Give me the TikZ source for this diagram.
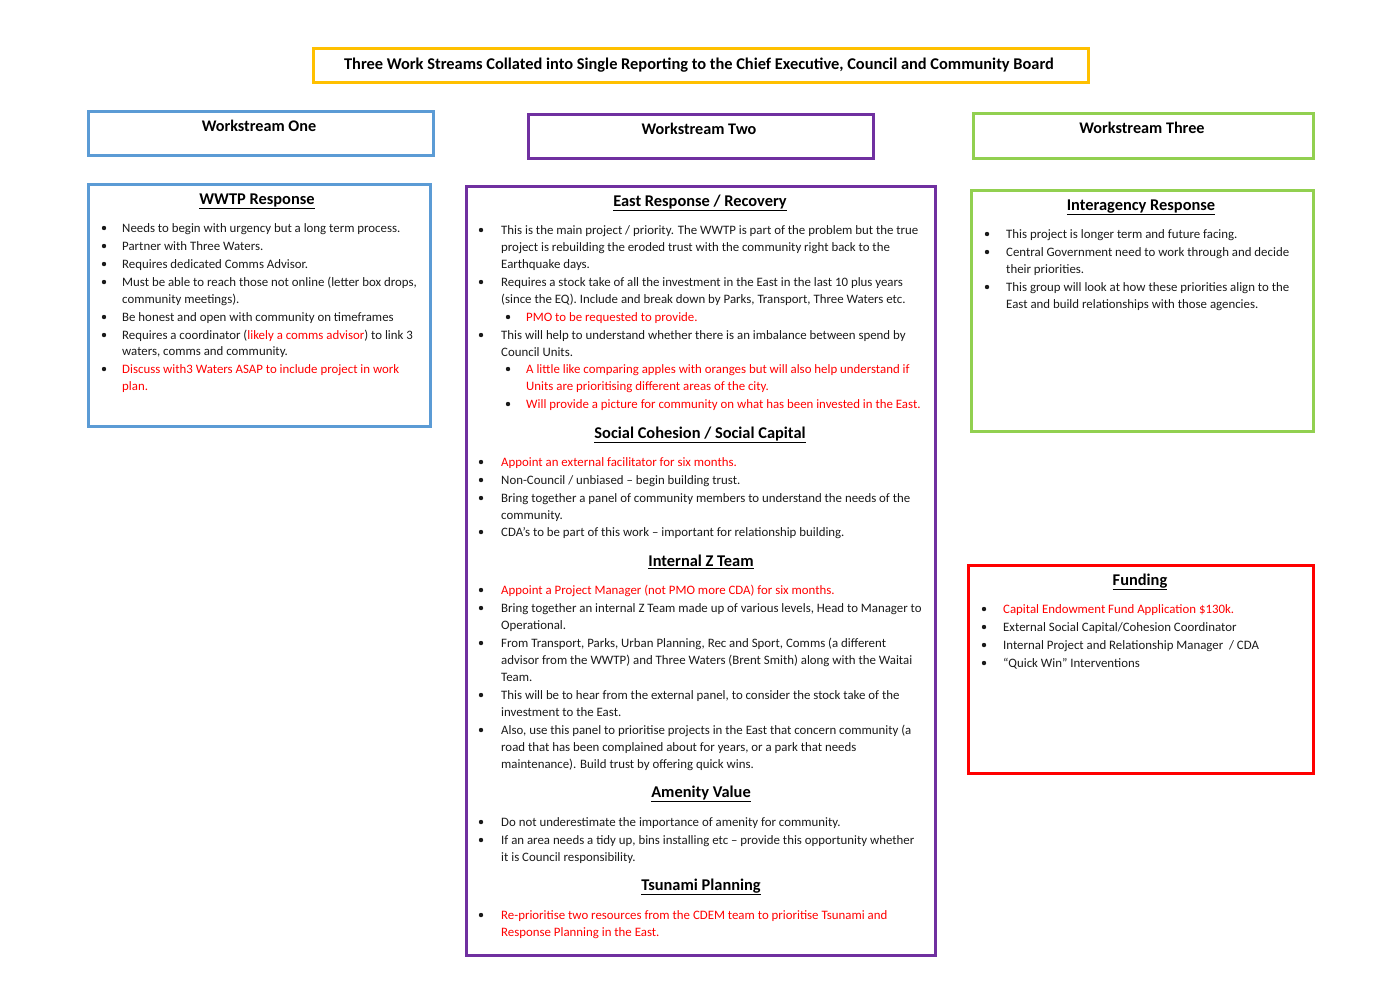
\documentclass[tikz,border=0pt]{standalone}
\usepackage{fontspec}
\setmainfont{Carlito}
\definecolor{cblue}{HTML}{5B9BD5}
\definecolor{cpurple}{HTML}{7030A0}
\definecolor{cgreen}{HTML}{92D050}
\definecolor{cgold}{HTML}{FFC000}
\definecolor{cred}{HTML}{FF0000}
\definecolor{ctext}{HTML}{1A1A1A}
\newcommand\rd[1]{\textcolor{cred}{#1}}
\newcommand\tline[3]{\node[txt] at (#1,#2+4) {#3};}
\newcommand\bitem[4]{\fill[ctext] (#1,#3) circle (2.2pt); \node[txt] at (#2,#3+4) {#4};}
\newcommand\myhead[3]{\node[hd] at (#1,#2+5.5) {\underline{#3}};}
\begin{document}
\begin{tikzpicture}[x=1pt,y=-1pt,
  font=\fontsize{12.85}{15}\selectfont,
  txt/.style={anchor=base west, inner sep=0pt, text=ctext},
  hd/.style={anchor=base, inner sep=0pt, text=black, font=\fontsize{16.4}{19}\selectfont\bfseries},
  frame/.style={draw=#1, line width=3pt, anchor=north west, inner sep=0pt},
  wlabel/.style={anchor=base, inner sep=0pt, text=black, font=\fontsize{16.2}{19}\selectfont\bfseries}]
\useasboundingbox (0,0) rectangle (1398,989);

% frames
\node[frame=cgold, minimum width=775pt, minimum height=34pt] (title) at (312,47) {};
\node[frame=cblue, minimum width=345pt, minimum height=44pt] (wsone) at (87,110) {};
\node[frame=cpurple, minimum width=345pt, minimum height=44pt] (wstwo) at (527,113) {};
\node[frame=cgreen, minimum width=340pt, minimum height=45pt] (wsthree) at (972,112) {};
\node[frame=cblue, minimum width=342pt, minimum height=242pt] (wwtp) at (87,183) {};
\node[frame=cpurple, minimum width=469pt, minimum height=769pt] (east) at (465,185) {};
\node[frame=cgreen, minimum width=342pt, minimum height=241pt] (inter) at (970,189) {};
\node[frame=cred, minimum width=345pt, minimum height=208pt] (fund) at (967,564) {};

% header labels
\node[wlabel, font=\fontsize{16.4}{19}\selectfont\bfseries] (titletext) at (699,69) {Three Work Streams Collated into Single Reporting to the Chief Executive, Council and Community Board};
\node[wlabel] (wsonet) at (259,131.5) {Workstream One};
\node[wlabel] (wstwot) at (699,134.5) {Workstream Two};
\node[wlabel] (wsthreet) at (1142,133.5) {Workstream Three};

% WWTP
\myhead{257}{199}{WWTP Response}
\bitem{104}{122}{228}{Needs to begin with urgency but a long term process.}
\bitem{104}{122}{246}{Partner with Three Waters.}
\bitem{104}{122}{264}{Requires dedicated Comms Advisor.}
\bitem{104}{122}{282}{Must be able to reach those not online (letter box drops,}
\tline{122}{299}{community meetings).}
\bitem{104}{122}{317}{Be honest and open with community on timeframes}
\bitem{104}{122}{335}{Requires a coordinator (\rd{likely a comms advisor}) to link 3}
\tline{122}{351}{waters, comms and community.}
\bitem{104}{122}{369}{\rd{Discuss with3 Waters ASAP to include project in work}}
\tline{122}{386}{\rd{plan.}}

% East
\myhead{700}{201}{East Response / Recovery}
\bitem{481}{501}{230}{This is the main project / priority. The WWTP is part of the problem but the true}
\tline{501}{247}{project is rebuilding the eroded trust with the community right back to the}
\tline{501}{264}{Earthquake days.}
\bitem{481}{501}{282}{Requires a stock take of all the investment in the East in the last 10 plus years}
\tline{501}{299}{(since the EQ). Include and break down by Parks, Transport, Three Waters etc.}
\bitem{508}{526}{317}{\rd{PMO to be requested to provide.}}
\bitem{481}{501}{335}{This will help to understand whether there is an imbalance between spend by}
\tline{501}{352}{Council Units.}
\bitem{508}{526}{369}{\rd{A little like comparing apples with oranges but will also help understand if}}
\tline{526}{386}{\rd{Units are prioritising different areas of the city.}}
\bitem{508}{526}{404}{\rd{Will provide a picture for community on what has been invested in the East.}}

\myhead{700}{433}{Social Cohesion / Social Capital}
\bitem{481}{501}{462}{\rd{Appoint an external facilitator for six months.}}
\bitem{481}{501}{480}{Non-Council / unbiased – begin building trust.}
\bitem{481}{501}{498}{Bring together a panel of community members to understand the needs of the}
\tline{501}{515}{community.}
\bitem{481}{501}{532}{CDA’s to be part of this work – important for relationship building.}

\myhead{701}{561}{Internal Z Team}
\bitem{481}{501}{590}{\rd{Appoint a Project Manager (not PMO more CDA) for six months.}}
\bitem{481}{501}{608}{Bring together an internal Z Team made up of various levels, Head to Manager to}
\tline{501}{625}{Operational.}
\bitem{481}{501}{643}{From Transport, Parks, Urban Planning, Rec and Sport, Comms (a different}
\tline{501}{660}{advisor from the WWTP) and Three Waters (Brent Smith) along with the Waitai}
\tline{501}{677}{Team.}
\bitem{481}{501}{695}{This will be to hear from the external panel, to consider the stock take of the}
\tline{501}{712}{investment to the East.}
\bitem{481}{501}{730}{Also, use this panel to prioritise projects in the East that concern community (a}
\tline{501}{747}{road that has been complained about for years, or a park that needs}
\tline{501}{764}{maintenance). Build trust by offering quick wins.}

\myhead{701}{792}{Amenity Value}
\bitem{481}{501}{822}{Do not underestimate the importance of amenity for community.}
\bitem{481}{501}{840}{If an area needs a tidy up, bins installing etc – provide this opportunity whether}
\tline{501}{857}{it is Council responsibility.}

\myhead{701}{885}{Tsunami Planning}
\bitem{481}{501}{915}{\rd{Re-prioritise two resources from the CDEM team to prioritise Tsunami and}}
\tline{501}{932}{\rd{Response Planning in the East.}}

% Interagency
\myhead{1141}{205}{Interagency Response}
\bitem{987}{1006}{234}{This project is longer term and future facing.}
\bitem{987}{1006}{252}{Central Government need to work through and decide}
\tline{1006}{269}{their priorities.}
\bitem{987}{1006}{287}{This group will look at how these priorities align to the}
\tline{1006}{304}{East and build relationships with those agencies.}

% Funding
\myhead{1140}{580}{Funding}
\bitem{984}{1003}{609}{\rd{Capital Endowment Fund Application \$130k.}}
\bitem{984}{1003}{627}{External Social Capital/Cohesion Coordinator}
\bitem{984}{1003}{645}{Internal Project and Relationship Manager \ / CDA}
\bitem{984}{1003}{663}{“Quick Win” Interventions}
\end{tikzpicture}
\end{document}
